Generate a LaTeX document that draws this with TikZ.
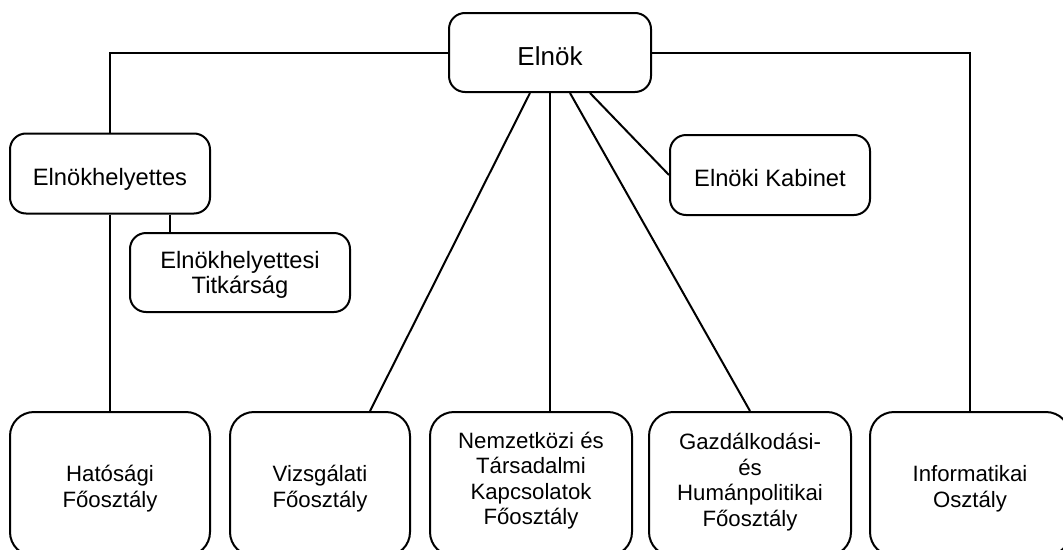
\documentclass[tikz,border=0pt]{standalone}
\usepackage{fontspec}
\setmainfont{Liberation Sans}
\newcommand\tup{\rule{0pt}{22pt}}
\newcommand\tdn{\rule[-7pt]{0pt}{7pt}}
\begin{document}
\begin{tikzpicture}[x=1pt,y=-1pt,
  box/.style={draw, line width=2pt, rounded corners=16pt, inner sep=0pt},
  lowbox/.style={box, rounded corners=24pt, minimum height=144pt},
  txt/.style={align=center, inner sep=0pt},
  toptxt/.style={txt, font=\fontsize{23.7}{25.7}\selectfont},
  lowtxt/.style={txt, font=\fontsize{22.2}{25.5}\selectfont},
  conn/.style={line width=2pt}]
\useasboundingbox (0,0) rectangle (1063,549);
\clip (0,0) rectangle (1063,549);
% boxes
\node[box, minimum width=202pt, minimum height=79pt] (elnok) at (550,52.5) {};
\node[box, minimum width=200pt, minimum height=80pt] (helyettes) at (110,173.5) {};
\node[box, minimum width=220pt, minimum height=79pt] (titk) at (240,272.5) {};
\node[box, minimum width=200pt, minimum height=80pt] (kabinet) at (770,175) {};
\node[lowbox, minimum width=200pt] (hat) at (110,484) {};
\node[lowbox, minimum width=180pt] (vizs) at (320,484) {};
\node[lowbox, minimum width=202pt] (nemz) at (531,484) {};
\node[lowbox, minimum width=202pt] (gazd) at (750,484) {};
\node[lowbox, minimum width=200pt] (info) at (970,484) {};
% texts
\node[txt, font=\fontsize{26}{30}\selectfont] (elnok-t) at (550,58.2) {\tup Elnök\tdn};
\node[toptxt] (helyettes-t) at (110,177.5) {\tup Elnökhelyettes\tdn};
\node[toptxt] (titk-t) at (240,273.6) {\tup Elnökhelyettesi\\Titkárság\tdn};
\node[toptxt] (kabinet-t) at (770,178.5) {\tup Elnöki Kabinet\tdn};
\node[lowtxt] (hat-t) at (110,487) {\tup Hatósági\\Főosztály\tdn};
\node[lowtxt] (vizs-t) at (320,487) {\tup Vizsgálati\\Főosztály\tdn};
\node[lowtxt] (nemz-t) at (531,479) {\tup Nemzetközi és\\Társadalmi\\Kapcsolatok\\Főosztály\tdn};
\node[lowtxt] (gazd-t) at (750,480.7) {\tup Gazdálkodási-\\és\\Humánpolitikai\\Főosztály\tdn};
\node[lowtxt] (info-t) at (970,487) {\tup Informatikai\\Osztály\tdn};
% connectors
\draw[conn] (elnok.west) -| (helyettes.north);
\draw[conn] (elnok.east) -| (info.north);
\draw[conn] (helyettes.south) -- (hat.north);
\draw[conn] ([xshift=60pt]helyettes.south) -- ([xshift=-70pt]titk.north);
\draw[conn] ([xshift=-20pt]elnok.south) -- ([xshift=50pt]vizs.north);
\draw[conn] (elnok.south) -- ([xshift=19pt]nemz.north);
\draw[conn] ([xshift=20pt]elnok.south) -- (gazd.north);
\draw[conn] ([xshift=40pt]elnok.south) -- (kabinet.west);
\end{tikzpicture}
\end{document}
